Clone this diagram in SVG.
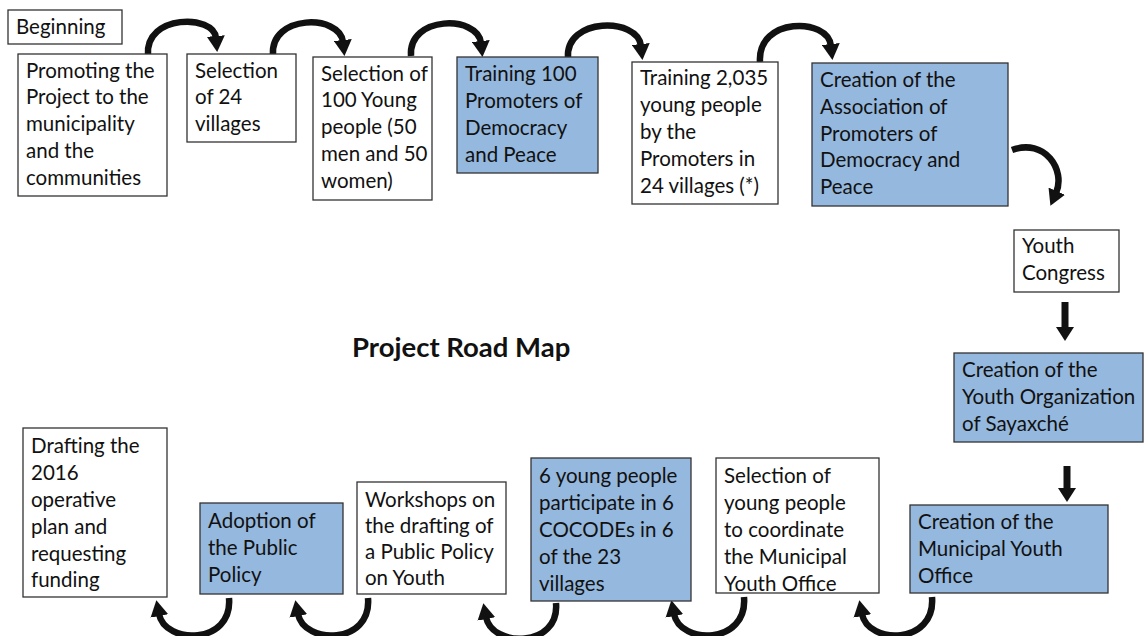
<svg xmlns="http://www.w3.org/2000/svg" width="1144" height="636" viewBox="0 0 1144 636">
<defs>
<style>
.w{fill:#ffffff;stroke:#333;stroke-width:1.3}
.b{fill:#95b8de;stroke:#333;stroke-width:1.3}
text{font-family:Lato,"Liberation Sans",sans-serif;font-size:20.5px;fill:#111}
.t{font-weight:bold;font-size:27.5px}
.a{fill:none;stroke:#111;stroke-width:6.5;marker-end:url(#h)}
.d{fill:none;stroke:#111;stroke-width:7;marker-end:url(#hd)}
</style>
<marker id="h" markerUnits="userSpaceOnUse" viewBox="0 0 16 18" markerWidth="16" markerHeight="18" refX="2" refY="9" orient="auto"><path d="M0,0 L16,9 L0,18 z" fill="#111"/></marker>
<marker id="hd" markerUnits="userSpaceOnUse" viewBox="0 0 14 18" markerWidth="14" markerHeight="18" refX="1" refY="9" orient="auto"><path d="M0,0 L14,9 L0,18 z" fill="#111"/></marker>
</defs>
<rect width="1144" height="636" fill="#fff"/>
<g id="connectors">
<path class="a" d="M148,55 C145,14 214,14 216,38"/>
<path class="a" d="M273,55 C270,14 340,14 343,42"/>
<path class="a" d="M411,56 C408,15 478,15 481,43"/>
<path class="a" d="M568,58 C565,17 638,17 641,46"/>
<path class="a" d="M760,62 C757,17 828,17 831,46"/>
<path class="a" d="M1012,150 C1045,138 1066,170 1056,193"/>
<path class="d" d="M1065,302 L1065,328"/>
<path class="d" d="M1067,466 L1067,489"/>
<path class="a" d="M932,597 C936,645 868,645 862,614"/>
<path class="a" d="M744,597 C748,645 680,645 674,614"/>
<path class="a" d="M556,603 C560,648 492,648 486,617"/>
<path class="a" d="M368,598 C372,645 304,645 298,614"/>
<path class="a" d="M229,598 C233,645 165,645 159,614"/>
</g>
<g id="beginning"><rect class="w" x="8" y="10" width="114" height="34"/><text x="16" y="34">Beginning</text></g>
<g id="promoting"><rect class="w" x="18" y="54" width="149" height="142"/>
<text x="26" y="78">Promoting the</text><text x="26" y="104">Project to the</text><text x="26" y="131">municipality</text><text x="26" y="158">and the</text><text x="26" y="185">communities</text></g>
<g id="sel24"><rect class="w" x="187" y="54" width="109" height="88"/>
<text x="195" y="78">Selection</text><text x="195" y="104">of 24</text><text x="195" y="131">villages</text></g>
<g id="sel100"><rect class="w" x="313" y="57" width="119" height="143"/>
<text x="321" y="81">Selection of</text><text x="321" y="107">100 Young</text><text x="321" y="134">people (50</text><text x="321" y="161">men and 50</text><text x="321" y="188">women)</text></g>
<g id="train100"><rect class="b" x="457" y="57" width="141" height="116"/>
<text x="465" y="81">Training 100</text><text x="465" y="108">Promoters of</text><text x="465" y="135">Democracy</text><text x="465" y="162">and Peace</text></g>
<g id="train2035"><rect class="w" x="632" y="62" width="146" height="142"/>
<text x="640" y="85">Training 2,035</text><text x="640" y="112">young people</text><text x="640" y="139">by the</text><text x="640" y="166">Promoters in</text><text x="640" y="193">24 villages (*)</text></g>
<g id="association"><rect class="b" x="812" y="63" width="196" height="143"/>
<text x="820" y="87">Creation of the</text><text x="820" y="114">Association of</text><text x="820" y="141">Promoters of</text><text x="820" y="167">Democracy and</text><text x="820" y="194">Peace</text></g>
<g id="congress"><rect class="w" x="1014" y="230" width="105" height="62"/>
<text x="1022" y="253">Youth</text><text x="1022" y="280">Congress</text></g>
<g id="title"><text class="t" x="352" y="357">Project Road Map</text></g>
<g id="organization"><rect class="b" x="954" y="353" width="189" height="89"/>
<text x="962" y="377">Creation of the</text><text x="962" y="404">Youth Organization</text><text x="962" y="431">of Sayaxché</text></g>
<g id="office"><rect class="b" x="910" y="505" width="198" height="88"/>
<text x="918" y="529">Creation of the</text><text x="918" y="556">Municipal Youth</text><text x="918" y="583">Office</text></g>
<g id="selyoung"><rect class="w" x="716" y="458" width="163" height="135"/>
<text x="724" y="483">Selection of</text><text x="724" y="510">young people</text><text x="724" y="537">to coordinate</text><text x="724" y="564">the Municipal</text><text x="724" y="591">Youth Office</text></g>
<g id="cocodes"><rect class="b" x="531" y="458" width="160" height="143"/>
<text x="539" y="483">6 young people</text><text x="539" y="510">participate in 6</text><text x="539" y="537">COCODEs in 6</text><text x="539" y="564">of the 23</text><text x="539" y="591">villages</text></g>
<g id="workshops"><rect class="w" x="357" y="482" width="149" height="112"/>
<text x="365" y="507">Workshops on</text><text x="365" y="533">the drafting of</text><text x="365" y="559">a Public Policy</text><text x="365" y="585">on Youth</text></g>
<g id="adoption"><rect class="b" x="200" y="503" width="143" height="91"/>
<text x="208" y="528">Adoption of</text><text x="208" y="555">the Public</text><text x="208" y="582">Policy</text></g>
<g id="drafting"><rect class="w" x="23" y="428" width="144" height="169"/>
<text x="31" y="453">Drafting the</text><text x="31" y="480">2016</text><text x="31" y="507">operative</text><text x="31" y="534">plan and</text><text x="31" y="561">requesting</text><text x="31" y="587">funding</text></g>
</svg>
